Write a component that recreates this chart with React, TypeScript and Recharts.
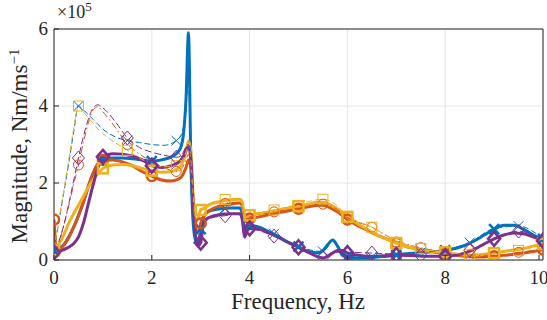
import React from 'react';
import { LineChart, Line, XAxis, YAxis, CartesianGrid, ReferenceLine } from 'recharts';

// frequency grids (Hz)
const thickFreq = [
  0, 0.05, 0.1, 0.2, 0.3, 0.4, 0.5, 0.6, 0.7, 0.8, 0.9, 1, 1.2, 1.4, 1.6, 1.8,
  2, 2.2, 2.4, 2.5, 2.6, 2.65, 2.7, 2.75, 2.8, 2.85, 2.9, 2.95, 3, 3.05, 3.1, 3.2,
  3.4, 3.6, 3.8, 3.85, 3.9, 3.95, 4, 4.2, 4.4, 4.6, 4.8, 5, 5.2, 5.4, 5.5, 5.6,
  5.7, 5.8, 5.9, 6, 6.2, 6.4, 6.6, 6.8, 7, 7.2, 7.4, 7.6, 7.8, 8, 8.2, 8.4, 8.6,
  8.8, 9, 9.2, 9.4, 9.6, 9.8, 10,
];

// magnitudes in units of 1e5
const blueThick = [
  0.25, 0.25, 0.3, 0.4, 0.6, 0.85, 1.15, 1.5, 1.9, 2.25, 2.5, 2.6, 2.65, 2.65, 2.63, 2.6,
  2.57, 2.6, 2.68, 2.76, 2.95, 3.3, 4.2, 5.9, 2.5, 0.9, 0.5, 0.45, 0.8, 1.1, 1.2, 1.28,
  1.33, 1.35, 1.35, 1.2, 0.75, 0.85, 0.9, 0.85, 0.73, 0.6, 0.45, 0.35, 0.22, 0.18, 0.25, 0.4,
  0.52, 0.35, 0.12, 0.08, 0.05, 0.05, 0.08, 0.1, 0.13, 0.16, 0.18, 0.2, 0.22, 0.25, 0.3, 0.38, 0.5,
  0.65, 0.8, 0.9, 0.9, 0.8, 0.65, 0.55,
];
const redThick = [
  1.05, 0.3, 0.28, 0.38, 0.58, 0.85, 1.15, 1.5, 1.9, 2.25, 2.5, 2.6, 2.6, 2.55, 2.45, 2.3,
  2.18, 2.08, 2.05, 2.08, 2.15, 2.25, 2.4, 2.6, 2.4, 1.4, 0.8, 0.7, 0.95, 1.1, 1.2, 1.3,
  1.4, 1.45, 1.48, 1.4, 1.05, 1.05, 1.08, 1.12, 1.18, 1.23, 1.28, 1.33, 1.38, 1.42, 1.42, 1.38,
  1.32, 1.25, 1.15, 1.05, 0.9, 0.78, 0.65, 0.55, 0.45, 0.35, 0.3, 0.25, 0.2, 0.17, 0.13, 0.1, 0.08,
  0.08, 0.1, 0.12, 0.15, 0.18, 0.22, 0.27,
];
const yellowThick = [
  0.25, 0.3, 0.4, 0.65, 0.95, 1.2, 1.42, 1.65, 1.88, 2.08, 2.25, 2.38, 2.47, 2.48, 2.45, 2.38,
  2.32, 2.28, 2.3, 2.35, 2.45, 2.6, 2.8, 3.1, 2.8, 1.6, 1.0, 1.1, 1.3, 1.33, 1.37, 1.45,
  1.52, 1.56, 1.58, 1.5, 1.12, 1.13, 1.16, 1.2, 1.25, 1.3, 1.35, 1.4, 1.45, 1.5, 1.5, 1.46,
  1.4, 1.32, 1.22, 1.12, 0.95, 0.8, 0.66, 0.54, 0.44, 0.35, 0.28, 0.24, 0.22, 0.2, 0.16, 0.13, 0.13,
  0.15, 0.18, 0.22, 0.26, 0.3, 0.36, 0.42,
];
const purpleThick = [
  0.2, 0.2, 0.22, 0.27, 0.33, 0.42, 0.6, 0.95, 1.45, 1.95, 2.4, 2.68, 2.76, 2.75, 2.7, 2.6,
  2.45, 2.4, 2.45, 2.5, 2.6, 2.7, 2.85, 2.95, 2.6, 1.3, 0.6, 0.38, 0.45, 0.9, 1.05, 1.12,
  1.18, 1.2, 1.2, 1.05, 0.6, 0.75, 0.82, 0.8, 0.7, 0.58, 0.45, 0.33, 0.2, 0.08, 0.05, 0.1,
  0.18, 0.25, 0.25, 0.18, 0.13, 0.1, 0.1, 0.12, 0.13, 0.12, 0.11, 0.1, 0.1, 0.1, 0.12, 0.18, 0.28,
  0.42, 0.55, 0.65, 0.7, 0.68, 0.6, 0.5,
];

const thinFreq = [
  0, 0.1, 0.2, 0.3, 0.4, 0.5, 0.6, 0.7, 0.8, 0.9, 1, 1.25, 1.5, 1.75, 2, 2.25, 2.5,
  2.6, 2.7, 2.75, 2.8, 2.85, 2.9, 2.95, 3, 3.1, 3.25, 3.5, 3.75, 3.85, 3.9, 4,
  4.5, 5, 5.5, 5.7, 6, 6.5, 7, 7.5, 8, 8.5, 9, 9.5, 10,
];
const blueThin = [
  0.25, 1.0, 1.75, 2.5, 3.3, 4.0, 3.9, 3.78, 3.65, 3.52, 3.4, 3.2, 3.1, 3.05, 3.0, 2.98, 3.1,
  3.25, 3.9, 4.8, 2.0, 0.8, 0.5, 0.5, 0.8, 1.2, 1.3, 1.35, 1.35, 1.2, 0.8, 0.9,
  0.68, 0.35, 0.22, 0.5, 0.1, 0.08, 0.14, 0.2, 0.27, 0.45, 0.82, 0.88, 0.55,
];
const redThin = [
  0.25, 0.45, 0.9, 1.4, 1.95, 2.47, 3.05, 3.55, 3.9, 3.98, 3.85, 3.45, 3.0, 2.75, 2.55, 2.4, 2.3,
  2.35, 2.6, 2.75, 2.3, 1.3, 0.8, 0.75, 1.0, 1.2, 1.35, 1.47, 1.5, 1.42, 1.1, 1.12,
  1.25, 1.35, 1.45, 1.38, 1.1, 0.85, 0.5, 0.32, 0.2, 0.13, 0.12, 0.2, 0.28,
];
const yellowThin = [
  0.3, 1.05, 1.8, 2.6, 3.4, 4.0, 3.85, 3.7, 3.55, 3.4, 3.28, 3.05, 2.85, 2.65, 2.5, 2.42, 2.45,
  2.55, 2.8, 3.0, 2.6, 1.6, 1.1, 1.15, 1.35, 1.42, 1.5, 1.57, 1.6, 1.52, 1.18, 1.2,
  1.3, 1.45, 1.58, 1.5, 1.15, 0.85, 0.5, 0.3, 0.2, 0.15, 0.18, 0.25, 0.4,
];
const purpleThin = [
  0.25, 0.5, 0.9, 1.45, 2.05, 2.65, 3.2, 3.65, 3.95, 4.03, 3.95, 3.6, 3.17, 2.92, 2.8, 2.72, 2.67,
  2.7, 2.95, 3.0, 2.4, 1.2, 0.6, 0.45, 0.6, 1.0, 1.1, 1.15, 1.2, 1.05, 0.65, 0.8,
  0.62, 0.3, 0.07, 0.2, 0.2, 0.18, 0.15, 0.12, 0.1, 0.25, 0.55, 0.75, 0.5,
];

const thickMarks = [0, 1, 2, 3, 4, 5, 6, 7, 8, 9, 10];
const thinMarks = [0.5, 1.5, 2.5, 3.5, 4.5, 5.5, 6.5, 7.5, 8.5, 9.5];
const xTicks = [0, 2, 4, 6, 8, 10];
const yTicks = [0, 2, 4, 6];

const BLUE = '#0072BD';
const RED = '#D95319';
const YELLOW = '#EDB120';
const PURPLE = '#7E2F8E';
const AXIS = '#262626';
const FONT = 'Liberation Serif, Times New Roman, serif';

const toPoints = (freq: number[], vals: number[]) => freq.map((f, i) => ({ f, v: vals[i] }));

function markerDot(shape: string, color: string, width: number, marks: number[]) {
  return (props: any) => {
    const { cx, cy, payload, index } = props;
    const key = `m-${shape}-${width}-${index}`;
    if (cx == null || cy == null || !marks.some((m) => Math.abs(m - payload.f) < 1e-6)) {
      return <g key={key} />;
    }
    const s = 5;
    let el;
    if (shape === 'x') {
      el = (
        <g>
          <line x1={cx - s} y1={cy - s} x2={cx + s} y2={cy + s} />
          <line x1={cx - s} y1={cy + s} x2={cx + s} y2={cy - s} />
        </g>
      );
    } else if (shape === 'o') {
      el = <circle cx={cx} cy={cy} r={s} />;
    } else if (shape === 's') {
      el = <rect x={cx - s} y={cy - s} width={2 * s} height={2 * s} />;
    } else {
      el = <polygon points={`${cx},${cy - 7} ${cx + 6},${cy} ${cx},${cy + 7} ${cx - 6},${cy}`} />;
    }
    return (
      <g key={key} stroke={color} strokeWidth={width} fill="none">
        {el}
      </g>
    );
  };
}

function XTick({ x, y, payload }: any) {
  return (
    <g>
      <line x1={x} x2={x} y1={y} y2={y - 5} stroke={AXIS} />
      <text x={x} y={y + 24} textAnchor="middle" fontSize={19} fill={AXIS} style={{ fontFamily: FONT }}>
        {payload.value}
      </text>
    </g>
  );
}

function YTick({ x, y, payload }: any) {
  return (
    <g>
      <line x1={x} x2={x + 5} y1={y} y2={y} stroke={AXIS} />
      <text x={x - 6} y={y + 6} textAnchor="end" fontSize={19} fill={AXIS} style={{ fontFamily: FONT }}>
        {payload.value}
      </text>
    </g>
  );
}

function XLabel() {
  return (
    <text x={298} y={309} textAnchor="middle" fontSize={23} fill={AXIS} style={{ fontFamily: FONT }}>
      Frequency, Hz
    </text>
  );
}

function YLabel() {
  return (
    <text
      x={0}
      y={0}
      transform="translate(27, 146) rotate(-90)"
      textAnchor="middle"
      fontSize={23}
      fill={AXIS}
      style={{ fontFamily: FONT }}
    >
      Magnitude, Nm/ms<tspan dy={-8} fontSize={15}>−1</tspan>
    </text>
  );
}

const thickLines = [
  { name: 'blue', vals: blueThick, color: BLUE, shape: 'x' },
  { name: 'red', vals: redThick, color: RED, shape: 'o' },
  { name: 'yellow', vals: yellowThick, color: YELLOW, shape: 's' },
  { name: 'purple', vals: purpleThick, color: PURPLE, shape: 'd' },
];

const thinLines = [
  { name: 'blueThin', vals: blueThin, color: BLUE, shape: 'x', dash: '6 3' },
  { name: 'redThin', vals: redThin, color: RED, shape: 'o', dash: '7 3 1.5 3' },
  { name: 'yellowThin', vals: yellowThin, color: YELLOW, shape: 's', dash: '6 3' },
  { name: 'purpleThin', vals: purpleThin, color: PURPLE, shape: 'd', dash: '7 3' },
];

export default function App() {
  return (
    <div style={{ position: 'absolute', left: 0, top: 0, width: 547, height: 320, background: '#fff' }}>
      <LineChart width={547} height={320} margin={{ top: 29, right: 4, left: 0, bottom: 0 }}>
        <CartesianGrid stroke="#e6e6e6" strokeWidth={1} />
        <XAxis
          dataKey="f"
          type="number"
          domain={[0, 10]}
          ticks={xTicks}
          height={60}
          tickSize={0}
          tickMargin={0}
          tickLine={false}
          stroke={AXIS}
          tick={<XTick />}
          label={<XLabel />}
          allowDataOverflow
        />
        <YAxis
          type="number"
          domain={[0, 6]}
          ticks={yTicks}
          width={54}
          tickSize={0}
          tickMargin={0}
          tickLine={false}
          stroke={AXIS}
          tick={<YTick />}
          label={<YLabel />}
          allowDataOverflow
        />
        <ReferenceLine y={6} stroke={AXIS} />
        <ReferenceLine x={10} stroke={AXIS} />
        {thickLines.map((s) => (
          <Line
            key={s.name}
            data={toPoints(thickFreq, s.vals)}
            dataKey="v"
            type="monotone"
            stroke={s.color}
            strokeWidth={3}
            dot={markerDot(s.shape, s.color, 2.5, thickMarks)}
            activeDot={false}
            isAnimationActive={false}
          />
        ))}
        {thinLines.map((s) => (
          <Line
            key={s.name}
            data={toPoints(thinFreq, s.vals)}
            dataKey="v"
            type="monotone"
            stroke={s.color}
            strokeWidth={1}
            strokeDasharray={s.dash}
            dot={markerDot(s.shape, s.color, 1, thinMarks)}
            activeDot={false}
            isAnimationActive={false}
          />
        ))}
      </LineChart>
      <div
        style={{
          position: 'absolute',
          left: 57,
          top: 2,
          fontFamily: FONT,
          fontSize: 18,
          color: AXIS,
          whiteSpace: 'nowrap',
        }}
      >
        ×10<span style={{ fontSize: 13, position: 'relative', top: -7 }}>5</span>
      </div>
    </div>
  );
}
